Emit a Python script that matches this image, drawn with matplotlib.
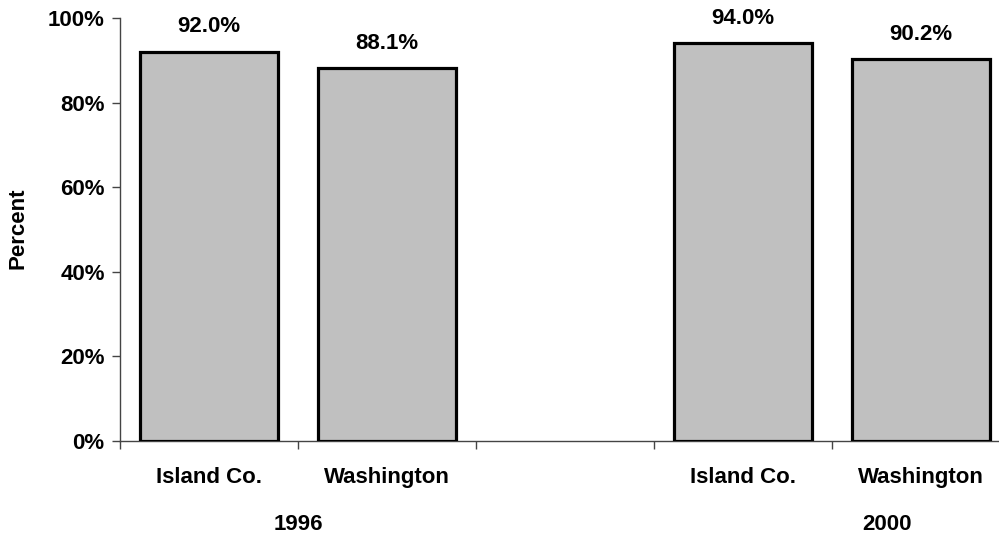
import matplotlib
matplotlib.use("Agg")
import matplotlib.pyplot as plt
from matplotlib.ticker import FuncFormatter, FixedLocator

# values per bar (percent), one empty slot between the two years
places = ["Island Co.", "Washington", "", "Island Co.", "Washington"]
values = [92.0, 88.1, None, 94.0, 90.2]
years = ["1996", "2000"]
year_pos = [0.5, 3.81]

plt.rcParams['font.family'] = ['Liberation Sans', 'DejaVu Sans']
plt.rcParams['font.weight'] = 'bold'
fs = 16

fig = plt.figure(figsize=(9.99, 5.37), dpi=100)
# the category axis runs off the right edge of the figure
ax = fig.add_axes([120 / 999, 1 - 441 / 537, 890 / 999, 423 / 537])

xs = [i for i, v in enumerate(values) if v is not None]
hs = [v for v in values if v is not None]
bars = ax.bar(xs, hs, width=0.77, color="#c0c0c0", edgecolor="black",
              linewidth=2.3, zorder=3)

for x, h in zip(xs, hs):
    ax.annotate(f"{h:.1f}%", (x, h), xytext=(0, 18), textcoords="offset points",
                ha="center", va="center", fontsize=fs, fontweight="bold")

ax.set_xlim(-0.5, 4.5)
ax.set_ylim(0, 100)
ax.set_yticks(range(0, 101, 20))
ax.yaxis.set_major_formatter(FuncFormatter(lambda v, p: f"{v:.0f}%"))

ax.set_xticks(range(len(places)))
ax.set_xticklabels(places)
ax.xaxis.set_minor_locator(FixedLocator([0.5 + i for i in range(-1, 5)]))
ax.tick_params(axis="x", which="major", length=0, pad=19, labelsize=fs)
ax.tick_params(axis="x", which="minor", length=6, width=1, direction="out",
               color="#444444")
ax.tick_params(axis="y", length=6, width=1, pad=5, labelsize=fs,
               color="#444444")

for x, y in zip(year_pos, years):
    ax.annotate(y, (x, 0), xytext=(0, -60), textcoords="offset points",
                xycoords=("data", "axes fraction"), ha="center", va="center",
                fontsize=fs, fontweight="bold")

for s in ["top", "right"]:
    ax.spines[s].set_visible(False)
for s in ["left", "bottom"]:
    ax.spines[s].set_color("#444444")
    ax.spines[s].set_linewidth(1)

fig.text(18 / 999, 1 - 228 / 537, "Percent", rotation=90, ha="center",
         va="center", fontsize=fs, fontweight="bold")

fig.savefig("out.png", dpi=100)
